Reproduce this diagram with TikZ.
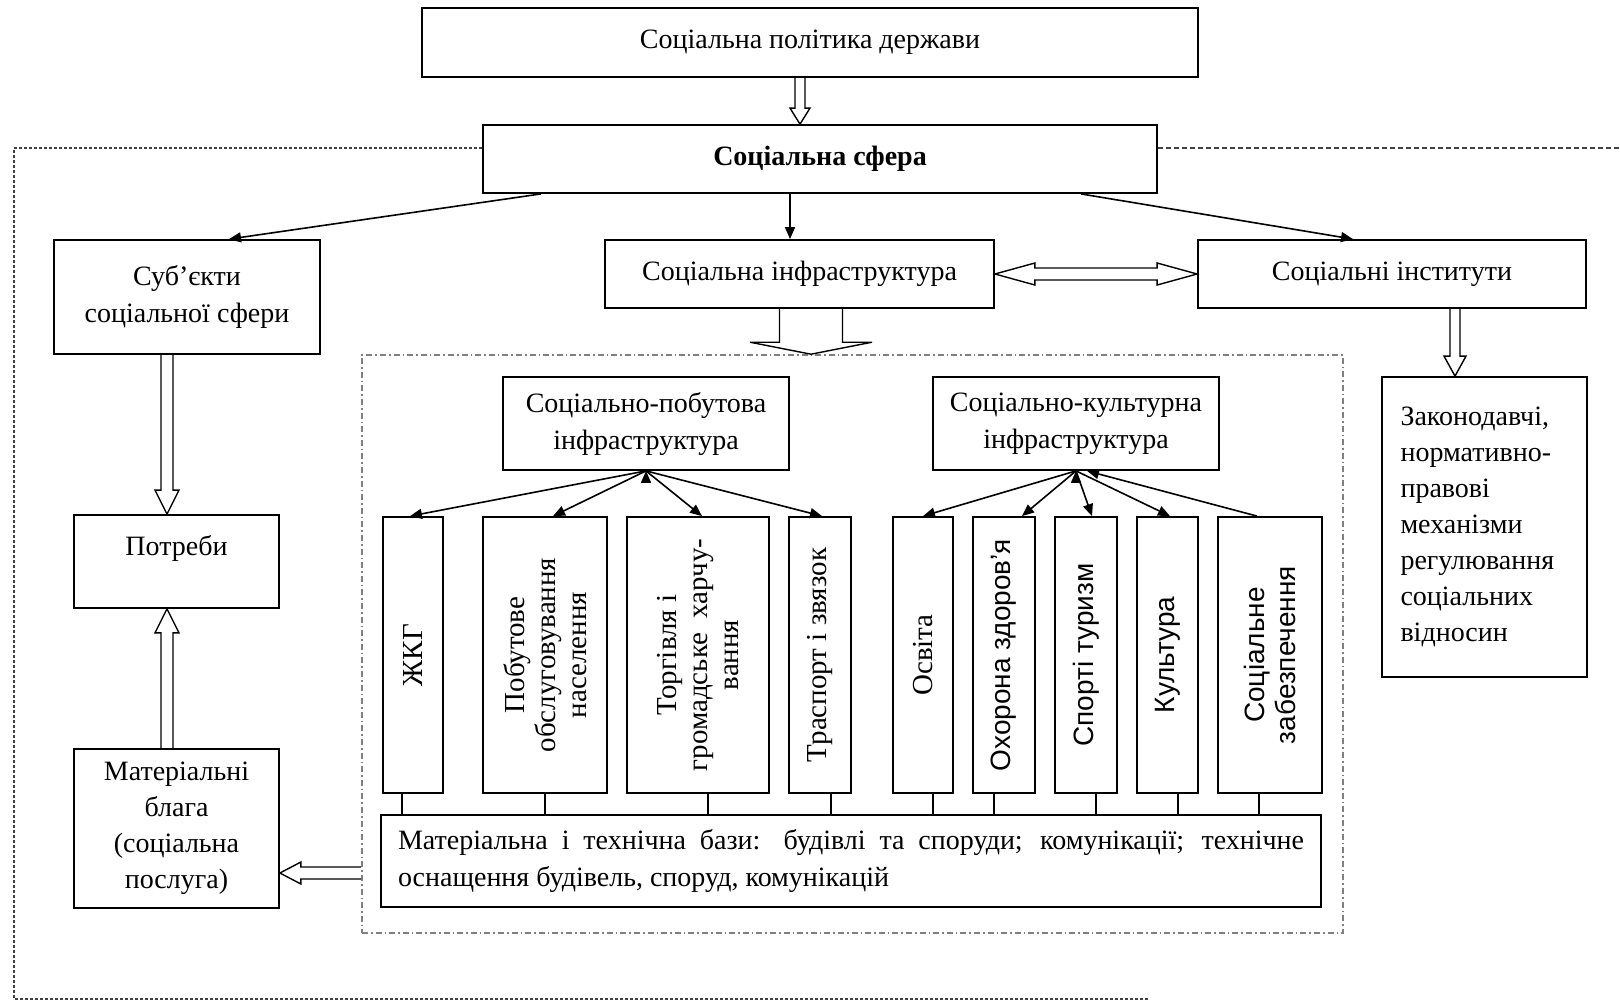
\documentclass[tikz,border=0pt]{standalone}
\usepackage{fontspec}
\setmainfont{Liberation Serif}
\newfontfamily\arialfont{Liberation Sans}
\usetikzlibrary{arrows.meta,positioning,calc}

\begin{document}
\begin{tikzpicture}
	[x=0.5pt,y=0.5pt,on grid,>={Triangle[length=6pt,width=5pt]},
	box/.style={rectangle,draw,line width=0.9pt,inner sep=0pt,align=center,font=\fontsize{14}{18.5}\selectfont},
	vbox/.style={box,minimum width=#1,minimum height=138pt},
	vlabel/.style={rotate=90,align=center,inner sep=0pt,font=\fontsize{14.5}{15.5}\selectfont},
	fan/.style={->,line width=0.8pt},
	stem/.style={line width=0.8pt},
	hollow/.style={line width=0.7pt,line join=miter},
	sphereframe/.style={line width=0.9pt,black!75,dash pattern=on 1.5pt off 1pt},
	subframe/.style={rectangle,draw=black!50,line width=0.8pt,dash pattern=on 3pt off 1.5pt on 0.8pt off 1.5pt}]

	\useasboundingbox (0,0) rectangle (1620,-1001);

	\node [box,minimum width=388pt,minimum height=34.5pt] (policy) at (810,-42.5) {Соціальна політика держави};
	\node [box,minimum width=337pt,minimum height=34pt,font=\bfseries\fontsize{14}{18.5}\selectfont] (sphere) [below=58.25pt of policy,xshift=5pt] {Соціальна сфера};

	\node [box,minimum width=194.5pt,minimum height=34pt] (infra) [below=57.5pt of sphere,xshift=-10.25pt] {Соціальна інфраструктура};
	\node [box,minimum width=133pt,minimum height=57pt] (subj) [left=306.25pt of infra,yshift=-11.5pt] {Суб’єкти\\соціальної сфери};
	\node [box,minimum width=194pt,minimum height=34pt] (inst) [right=296.25pt of infra] {Соціальні інститути};
	\node [box,minimum width=102.5pt,minimum height=150pt,text width=84pt,align=left,font=\fontsize{14}{18}\selectfont] (zakon) [below=126.5pt of inst,xshift=46.25pt]
		{Законодавчі,\\нормативно-\\правові\\механізми\\регулювання\\соціальних\\відносин};

	% infrastructure block
	\node [subframe,minimum width=490.5pt,minimum height=289pt] (frame) [below=185pt of infra,xshift=26.5pt] {};
	\node [box,minimum width=143pt,minimum height=46.5pt] (pobut) [below=74.75pt of infra,xshift=-76.75pt] {Соціально-побутова\\інфраструктура};
	\node [box,minimum width=143pt,minimum height=46.5pt] (kult) [right=215pt of pobut] {Соціально-культурна\\інфраструктура};

	\node [vbox=30pt] (zhkg) [below=115.75pt of pobut,xshift=-116.5pt] {};
	\node [vbox=62pt] (pobsl) [right=66pt of zhkg] {};
	\node [vbox=71pt] (torg) [right=76.5pt of pobsl] {};
	\node [vbox=31pt] (transp) [right=61pt of torg] {};
	\node [vbox=30pt] (osv) [right=51.5pt of transp] {};
	\node [vbox=31pt] (ohor) [right=40.5pt of osv] {};
	\node [vbox=31pt] (sport) [right=41pt of ohor] {};
	\node [vbox=30.5pt] (kultura) [right=40.75pt of sport] {};
	\node [vbox=52pt] (zabezp) [right=51.25pt of kultura] {};

	\node [vlabel] (zhkg-t) at (zhkg) {ЖКГ};
	\node [vlabel] (pobsl-t) at (pobsl) {Побутове\\обслуговування\\населення};
	\node [vlabel] (torg-t) at (torg) {Торгівля і\\громадське\ \ харчу-\\вання};
	\node [vlabel] (transp-t) at (transp) {Траспорт і звязок};
	\node [vlabel] (osv-t) at (osv) {Освіта};
	\node [vlabel,font=\arialfont\fontsize{14}{15.5}\selectfont] (ohor-t) at (ohor) {Охорона здоров’я};
	\node [vlabel,font=\arialfont\fontsize{14}{15.5}\selectfont] (sport-t) at (sport) {Спорті туризм};
	\node [vlabel,font=\arialfont\fontsize{14}{15.5}\selectfont] (kultura-t) at (kultura) {Культура};
	\node [vlabel,font=\arialfont\fontsize{14}{15.5}\selectfont] (zabezp-t) at (zabezp) {Соціальне\\забезпечення};

	\node [box,minimum width=470pt,minimum height=46pt,text width=453pt,align=justify] (base) [below=103pt of zhkg,xshift=219pt]
		{Матеріальна і технічна бази: будівлі та споруди; комунікації; технічне\linebreak оснащення будівель, споруд, комунікацій};

	% left column
	\node [box,minimum width=102.5pt,minimum height=46.5pt,text depth=16.5pt] (potreby) [below=132.25pt of subj,xshift=-5.25pt] {Потреби};
	\node [box,minimum width=102.5pt,minimum height=79.5pt,font=\fontsize{14}{18}\selectfont] (blaga) [below=133.5pt of potreby] {Матеріальні\\блага\\(соціальна\\послуга)};

	% dashed border of the social sphere
	\draw [sphereframe] ([yshift=5.5pt]sphere.west) -| (14,-999) -- (1149,-999);
	\draw [sphereframe,dash pattern=on 2.5pt off 1.5pt] ([yshift=5.5pt]sphere.east) -- (1620,-148);

	\draw [fan] ([xshift=29.5pt]sphere.south west) -- ([xshift=21pt]subj.north);
	\draw [fan] ([xshift=-15pt]sphere.south) -- ([xshift=-4.75pt]infra.north);
	\draw [fan] ([xshift=-38.5pt]sphere.south east) -- ([xshift=-19.5pt]inst.north);

	\draw [fan] (pobut.south) edge ([xshift=-1.5pt]zhkg.north) edge ([xshift=4pt]pobsl.north)
		edge ([xshift=2pt]torg.north) edge ([xshift=1pt]transp.north);
	\draw [fan] (kult.south) edge (osv.north) edge ([xshift=9pt]ohor.north)
		edge ([xshift=3pt]sport.north) edge ([xshift=1.25pt]kultura.north);
	\draw [fan] ([xshift=-6.5pt]zabezp.north) -- ([xshift=5.5pt]kult.south);

	\draw [stem] ([xshift=-5.5pt]zhkg.south) -- ($(zhkg.south |- base.north)+(-5.5pt,0)$);
	\draw [stem] (pobsl.south) -- (pobsl.south |- base.north);
	\draw [stem] ([xshift=5pt]torg.south) -- ($(torg.south |- base.north)+(5pt,0)$);
	\draw [stem] ([xshift=5.5pt]transp.south) -- ($(transp.south |- base.north)+(5.5pt,0)$);
	\draw [stem] ([xshift=5pt]osv.south) -- ($(osv.south |- base.north)+(5pt,0)$);
	\draw [stem] ([xshift=-5pt]ohor.south) -- ($(ohor.south |- base.north)+(-5pt,0)$);
	\draw [stem] ([xshift=5pt]sport.south) -- ($(sport.south |- base.north)+(5pt,0)$);
	\draw [stem] ([xshift=5.25pt]kultura.south) -- ($(kultura.south |- base.north)+(5.25pt,0)$);
	\draw [stem] ([xshift=-5.5pt]zabezp.south) -- ($(zabezp.south |- base.north)+(-5.5pt,0)$);

	% hollow arrows
	\draw [hollow] ([xshift=-7.5pt]policy.south)
		-- ($(policy.south |- sphere.north)+(-7.5pt,8pt)$) -- ++(-2.5pt,0)
		-- ($(policy.south |- sphere.north)+(-5pt,0)$)
		-- ++(5pt,8pt) -- ++(-2.5pt,0) -- ([xshift=-2.5pt]policy.south);
	\draw [hollow] ($(potreby.north |- subj.south)+(-7.75pt,0)$)
		-- ($(potreby.north)+(-7.75pt,12pt)$) -- ++(-3pt,0)
		-- ([xshift=-4.75pt]potreby.north)
		-- ++(6pt,12pt) -- ++(-3pt,0) -- ($(potreby.north |- subj.south)+(-1.75pt,0)$);
	\draw [hollow] ([xshift=-7.75pt]blaga.north)
		-- ($(potreby.south)+(-7.75pt,-12pt)$) -- ++(-3pt,0)
		-- ([xshift=-4.75pt]potreby.south)
		-- ++(6pt,-12pt) -- ++(-3pt,0) -- ([xshift=-1.75pt]blaga.north);
	\draw [hollow] ([xshift=-10pt]infra.south)
		-- ($(infra.south |- frame.north)+(-10pt,6pt)$) -- ++(-14.75pt,0)
		-- ($(infra.south |- frame.north)+(5.75pt,0)$)
		-- ++(30.5pt,6pt) -- ++(-14.75pt,0) -- ([xshift=21.5pt]infra.south);
	\draw [hollow] (infra.east) -- ++(20pt,5.5pt) -- ++(0,-2.5pt) -- ($(inst.west)+(-20pt,3pt)$) -- ++(0,2.5pt)
		-- (inst.west) -- ++(-20pt,-5.5pt) -- ++(0,2.5pt) -- ($(infra.east)+(20pt,-3pt)$) -- ++(0,-2.5pt) -- cycle;
	\draw [hollow] ([xshift=29pt]inst.south)
		-- ($(inst.south |- zakon.north)+(29pt,10pt)$) -- ++(-3pt,0)
		-- ($(inst.south |- zakon.north)+(31.5pt,0)$)
		-- ++(5.5pt,10pt) -- ++(-3pt,0) -- ([xshift=34pt]inst.south);
	\draw [hollow] ($(frame.west |- blaga.east)+(0,-19.25pt)$)
		-- ($(blaga.east)+(10.5pt,-19.25pt)$) -- ++(0,2.5pt)
		-- ([yshift=-22.25pt]blaga.east)
		-- ++(10.5pt,-5.5pt) -- ++(0,2.5pt) -- ($(frame.west |- blaga.east)+(0,-25.25pt)$);
\end{tikzpicture}
\end{document}
